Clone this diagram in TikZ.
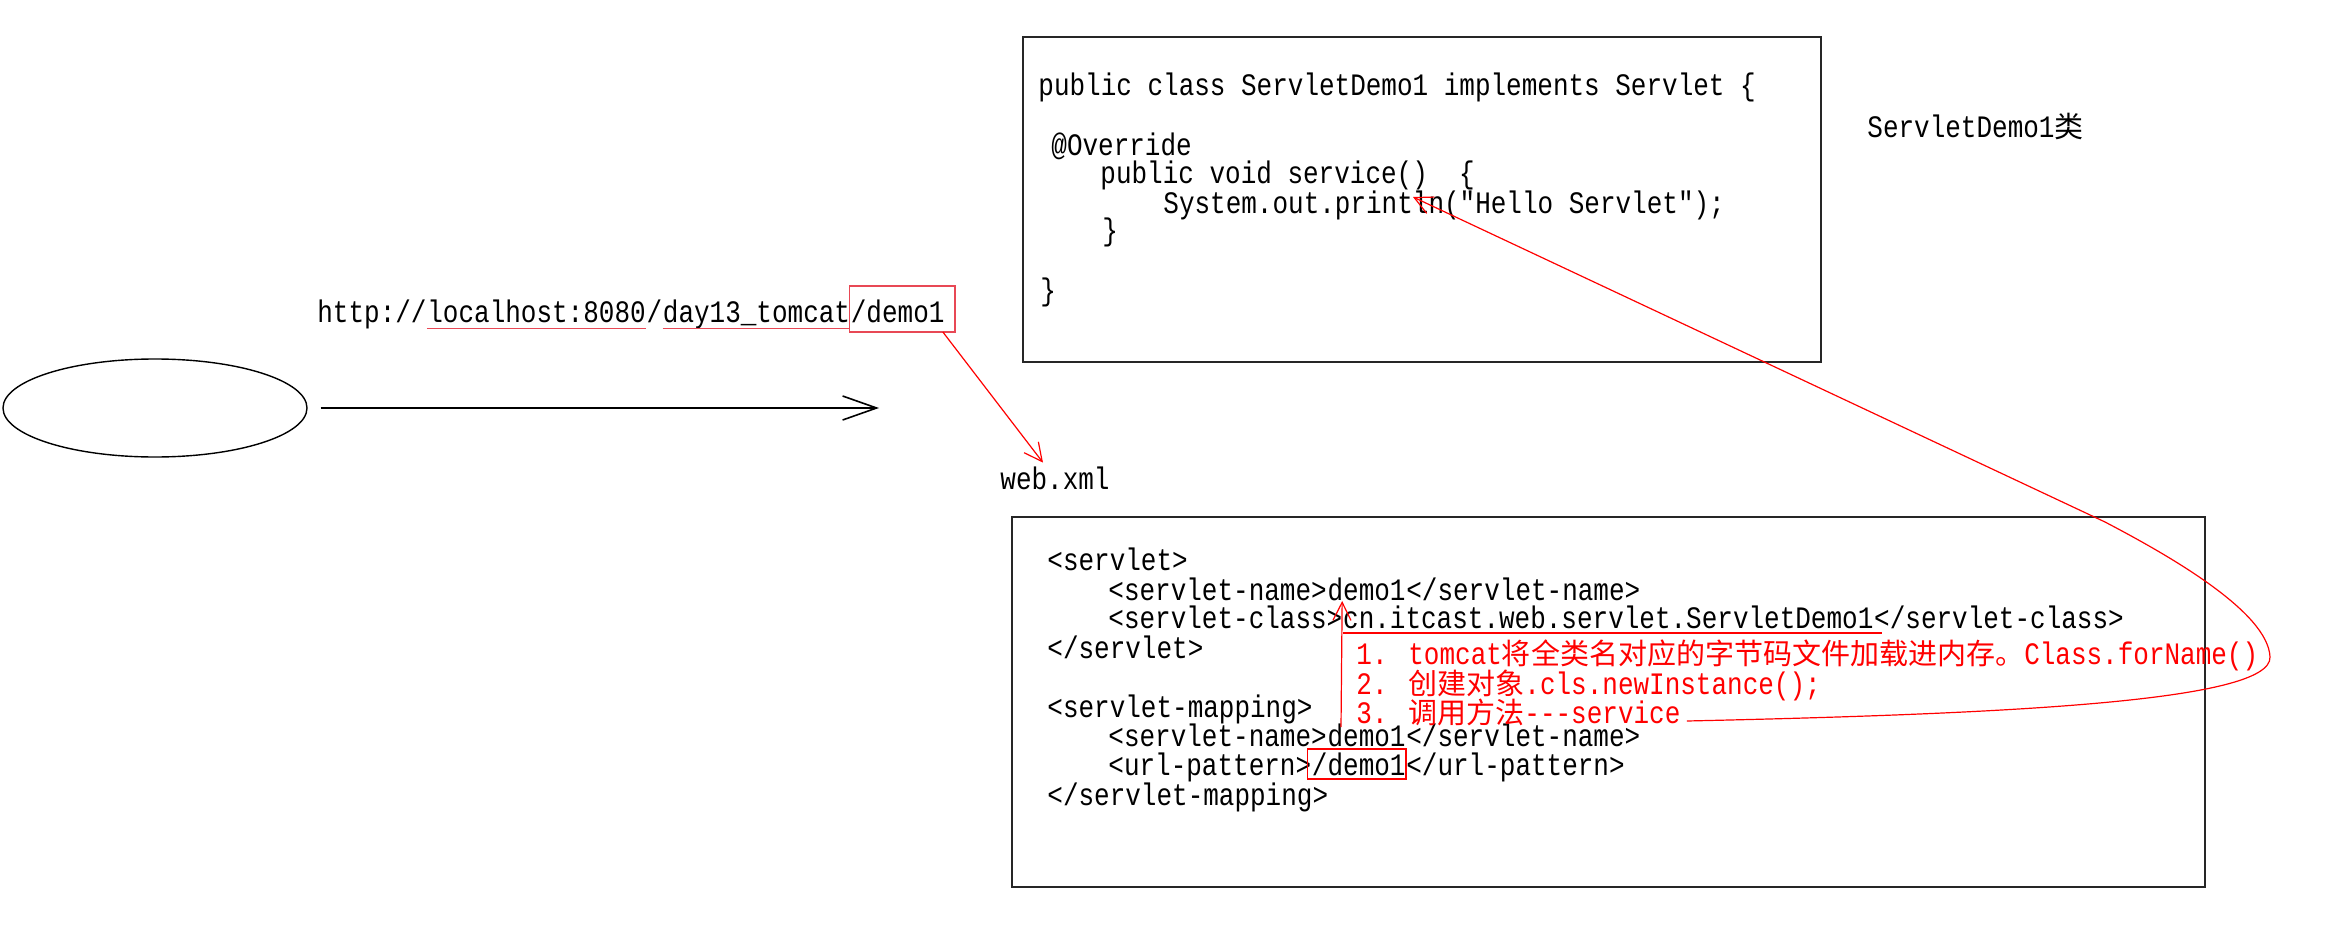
\documentclass[tikz,border=0pt]{standalone}
\usepackage{fontspec}
\usepackage{tikz}
\usetikzlibrary{calc, positioning, shapes.geometric, arrows.meta}
\newfontfamily\codefont[FakeStretch=0.833]{Liberation Mono}
\newfontfamily\cjk[Scale=0.93]{Noto Sans CJK SC}
\definecolor{urlred}{RGB}{232,72,85}

\begin{document}
\begin{tikzpicture}[x=0.5pt, y=-0.5pt,
        code/.style={font=\codefont\fontsize{15.6pt}{18pt}\selectfont, inner sep=0pt, anchor=base west, text height=10pt, text depth=3pt},
        note/.style={code, text=red},
        boxline/.style={draw=black!85, line width=1pt},
        hilite/.style={draw=red, line width=0.8pt},
        reqarrow/.style={line width=0.8pt, -{Straight Barb[length=17pt, width=12pt]}},
        redarrow/.style={red, line width=0.6pt, -{Straight Barb[length=9pt, width=9pt]}}]
            \useasboundingbox (0,0) rectangle (2344,952);
            \node[ellipse, draw, line width=0.7pt, inner sep=0pt, minimum width=152pt, minimum height=49pt] (browser) at (155,408) {};
            \coordinate (reqend) at (879,408);
            \draw[reqarrow, shorten <=6.5pt] (browser) -- (reqend);
            \node[code] (http) at (317,322) {http://};
            \node[code, base right=0pt of http] (host) {localhost:8080};
            \node[code, base right=0pt of host] (slash) {/};
            \node[code, base right=0pt of slash] (app) {day13\_tomcat};
            \node[code, base right=0pt of app] (res) {/demo1};
            \draw[urlred, line width=0.9pt] ([yshift=-3.2pt]host.base west) -- ([yshift=-3.2pt]host.base east);
            \draw[urlred, line width=0.9pt] ([yshift=-3.2pt]app.base west) -- ([yshift=-3.2pt]app.base east);
            \draw[urlred, line width=0.8pt] ([shift={(-0.5pt,18pt)}]res.base west) rectangle ([shift={(5pt,-5pt)}]res.base east);
            \node[code] (webxml) at (1000,489) {web.xml};
            \draw[redarrow] ([shift={(-1pt,-5pt)}]res.base east) -- ([shift={(-6pt,3pt)}]webxml.north);
            % ServletDemo1 class
            \draw[boxline] (1023,37) rectangle (1821,362);
            \node[code] (cls) at (1038,96) {public class ServletDemo1 implements Servlet \{};
            \node[code] (ovr) at (1051,156) {@Override};
            \node[code] (svc) at (1100,184) {public void service()~~\{};
            \node[code] (sysline) at (1163,214) {System.out.println("Hello Servlet");};
            \node[code] (svcend) at (1102,241) {\}};
            \node[code] (clsend) at (1040,300) {\}};
            \node[code] (clslabel) at (1867,138) {ServletDemo1{\cjk 类}};
            \coordinate (lntip) at ($(sysline.base west)+(250,-17)$);
            % web.xml
            \draw[boxline] (1012,517) rectangle (2205,887);
            \node[code] (sv) at (1047,570) {<servlet>};
            \node[code] (sn1) at (1108,600) {<servlet-name>};
            \node[code, base right=0pt of sn1] (sn1val) {demo1};
            \node[code, base right=0pt of sn1val] (sn1end) {</servlet-name>};
            \node[code] (scl) at (1108,628) {<servlet-class>};
            \node[code, base right=0pt of scl] (sclval) {cn.itcast.web.servlet.ServletDemo1};
            \node[code, base right=0pt of sclval] (sclend) {</servlet-class>};
            \node[code] (svend) at (1047,658) {</servlet>};
            \node[code] (map) at (1047,717) {<servlet-mapping>};
            \node[code] (sn2) at (1108,746) {<servlet-name>};
            \node[code, base right=0pt of sn2] (sn2val) {demo1};
            \node[code, base right=0pt of sn2val] (sn2end) {</servlet-name>};
            \node[code] (url) at (1108,775) {<url-pattern>};
            \node[code, base right=0pt of url] (urlval) {/demo1};
            \node[code, base right=0pt of urlval] (urlend) {</url-pattern>};
            \node[code] (mapend) at (1047,805) {</servlet-mapping>};
            \draw[hilite] ([shift={(-2pt,13pt)}]urlval.base west) rectangle ([yshift=-2pt]urlval.base east);
            \draw[hilite] ([yshift=-2.5pt]sclval.base west) -- ([shift={(4pt,-2.5pt)}]sclval.base east);
            \node[note] (step1) at (1356,664) {1. tomcat{\cjk 将全类名对应的字节码文件加载进内存。}Class.forName()};
            \node[note] (step2) at (1356,694) {2. {\cjk 创建对象}.cls.newInstance();};
            \node[note] (step3) at (1356,723) {3. {\cjk 调用方法}-{}-{}-service};
            \draw[redarrow] ([shift={(-7.5pt,-2pt)}]step3.base west) -- ([shift={(7.5pt,-0.5pt)}]sn1val.base west);
            \draw[redarrow] ([shift={(3pt,1pt)}]step3.base east) .. controls (2000,714) and (2272,702) .. (2270,657)
                .. controls (2268,612) and (2170,556) .. (2105,522) -- (lntip);
        \end{tikzpicture}
\end{document}
